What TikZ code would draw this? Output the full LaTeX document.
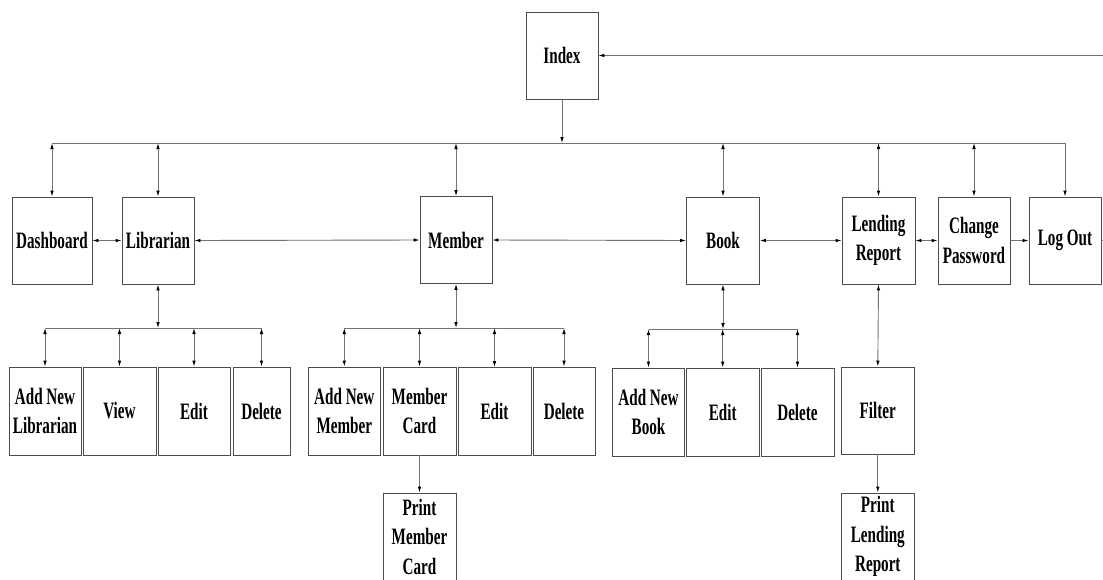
\documentclass[tikz,border=0pt]{standalone}
\usepackage{fontspec}
\setmainfont{Liberation Serif}[FakeStretch=0.645]
\usetikzlibrary{arrows.meta}
\begin{document}
\begin{tikzpicture}[x=1pt,y=-1pt,
  box/.style={draw=black!70, line width=0.9pt, inner sep=0pt, align=center,
    font=\fontsize{23.5}{29.5}\selectfont\bfseries, minimum height=87pt},
  conn/.style={draw=black!55, line width=0.9pt},
  >={Latex[length=6pt,width=3.6pt,color=black]}]
\path[clip] (0,0) rectangle (1103,579);
% top row
\node[box, minimum width=72pt] (index) at (562,55.5) {Index};
\node[box, minimum width=80pt] (dash) at (52,240.5) {Dashboard};
\node[box, minimum width=72pt] (lib) at (158,240.5) {Librarian};
\node[box, minimum width=72pt] (mem) at (456,240) {Member};
\node[box, minimum width=73pt] (book) at (723,240.5) {Book};
\node[box, minimum width=73pt] (lend) at (878.5,240.5) {Lending\\Report};
\node[box, minimum width=72pt] (chg) at (974,240.5) {Change\\Password};
\node[box, minimum width=72pt] (logout) at (1065,240.5) {Log Out};
% second row
\node[box, minimum width=72pt, minimum height=88pt] (anl) at (45,411) {Add New\\Librarian};
\node[box, minimum width=73pt, minimum height=88pt] (view) at (119.5,411) {View};
\node[box, minimum width=72pt, minimum height=88pt] (ledit) at (194,411) {Edit};
\node[box, minimum width=57pt, minimum height=88pt] (ldel) at (261.5,411) {Delete};
\node[box, minimum width=72.5pt, minimum height=88pt] (anm) at (344.3,411) {Add New\\Member};
\node[box, minimum width=73pt, minimum height=88pt] (mcard) at (419.5,411) {Member\\Card};
\node[box, minimum width=73pt, minimum height=88pt] (medit) at (494.5,411.5) {Edit};
\node[box, minimum width=62pt, minimum height=88pt] (mdel) at (564,411) {Delete};
\node[box, minimum width=72.5pt, minimum height=88pt] (anb) at (648.5,412) {Add New\\Book};
\node[box, minimum width=72.5pt, minimum height=88pt] (bedit) at (722.7,412) {Edit};
\node[box, minimum width=73pt, minimum height=88pt] (bdel) at (797.5,412) {Delete};
\node[box, minimum width=73.5pt, minimum height=87pt] (filter) at (877.8,410.5) {Filter};
% third row
\node[box, minimum width=73pt, minimum height=87pt] (pmc) at (419.5,536.5) {Print\\Member\\Card};
\node[box, minimum width=73.5pt, minimum height=87pt] (plr) at (877.8,536.5) {Print\\Lending\\Report};
% bus coordinates
\coordinate (bus) at (52,143);
\coordinate (lbus) at (158,328);
\coordinate (mbus) at (456,328);
\coordinate (bbus) at (723,329);
% main bus
\draw[conn,->] (dash.north |- bus) -- (logout.north |- bus) -- (logout.north);
\draw[conn,->] (index.south) -- (index.south |- bus);
\draw[conn,<->] (dash.north |- bus) -- (dash.north);
\draw[conn,<->] (lib.north |- bus) -- (lib.north);
\draw[conn,<->] (mem.north |- bus) -- (mem.north);
\draw[conn,<->] (book.north |- bus) -- (book.north);
\draw[conn,<->] (lend.north |- bus) -- (lend.north);
\draw[conn,<->] (chg.north |- bus) -- (chg.north);
% feedback to index
\draw[conn,->] (logout.east) -- ++(1.5,0) |- (index.east);
% horizontal links
\draw[conn,<->] (dash.east) -- (lib.west);
\draw[conn,<->] (lib.east) -- (mem.west);
\draw[conn,<->] (mem.east) -- (book.west);
\draw[conn,<->] (book.east) -- (lend.west);
\draw[conn,<->] (lend.east) -- (chg.west);
\draw[conn,->] (chg.east) -- (logout.west);
% librarian sub-tree
\draw[conn,<->] (lib.south) -- (lbus);
\draw[conn] (anl.north |- lbus) -- (ldel.north |- lbus);
\draw[conn,<->] (anl.north |- lbus) -- (anl.north);
\draw[conn,<->] (view.north |- lbus) -- (view.north);
\draw[conn,<->] (ledit.north |- lbus) -- (ledit.north);
\draw[conn,<->] (ldel.north |- lbus) -- (ldel.north);
% member sub-tree
\draw[conn,<->] (mem.south) -- (mbus);
\draw[conn] (anm.north |- mbus) -- (mdel.north |- mbus);
\draw[conn,<->] (anm.north |- mbus) -- (anm.north);
\draw[conn,<->] (mcard.north |- mbus) -- (mcard.north);
\draw[conn,<->] (medit.north |- mbus) -- (medit.north);
\draw[conn,<->] (mdel.north |- mbus) -- (mdel.north);
\draw[conn,->] (mcard.south) -- (pmc.north);
% book sub-tree
\draw[conn,<->] (book.south) -- (bbus);
\draw[conn] (anb.north |- bbus) -- (bdel.north |- bbus);
\draw[conn,<->] (anb.north |- bbus) -- (anb.north);
\draw[conn,<->] (bedit.north |- bbus) -- (bedit.north);
\draw[conn,<->] (bdel.north |- bbus) -- (bdel.north);
% lending sub-tree
\draw[conn,<->] (lend.south) -- (filter.north);
\draw[conn,->] (filter.south) -- (plr.north);
\end{tikzpicture}
\end{document}
